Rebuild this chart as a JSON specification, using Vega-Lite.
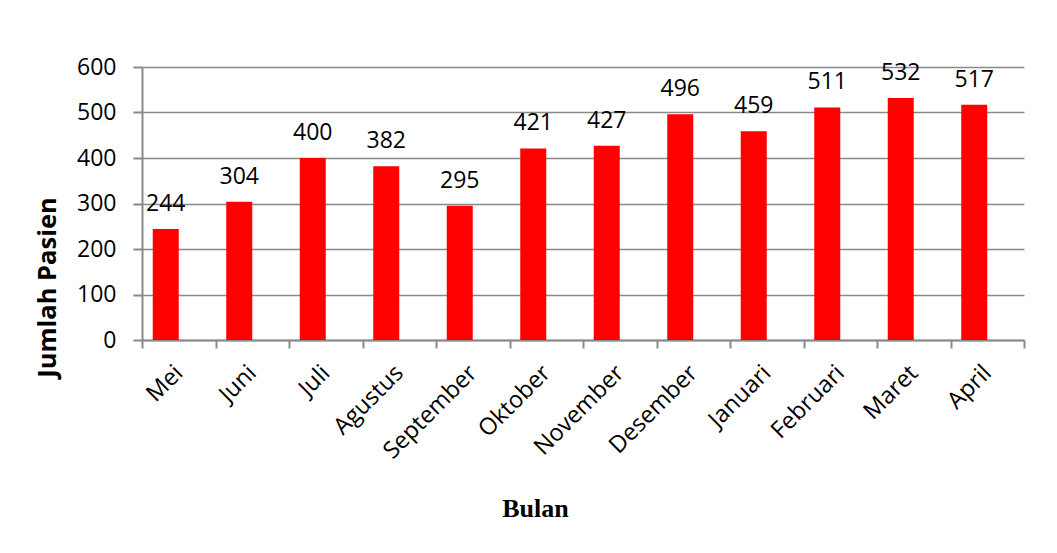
{
  "$schema": "https://vega.github.io/schema/vega-lite/v6.json",
  "width": 882,
  "height": 273,
  "autosize": {"type": "none"},
  "padding": {"left": 142, "top": 67, "right": 33, "bottom": 213},
  "background": "white",
  "data": {
    "values": [
      {"bulan": "Mei", "jumlah": 244, "seri": "Jumlah Pasien"},
      {"bulan": "Juni", "jumlah": 304, "seri": "Jumlah Pasien"},
      {"bulan": "Juli", "jumlah": 400, "seri": "Jumlah Pasien"},
      {"bulan": "Agustus", "jumlah": 382, "seri": "Jumlah Pasien"},
      {"bulan": "September", "jumlah": 295, "seri": "Jumlah Pasien"},
      {"bulan": "Oktober", "jumlah": 421, "seri": "Jumlah Pasien"},
      {"bulan": "November", "jumlah": 427, "seri": "Jumlah Pasien"},
      {"bulan": "Desember", "jumlah": 496, "seri": "Jumlah Pasien"},
      {"bulan": "Januari", "jumlah": 459, "seri": "Jumlah Pasien"},
      {"bulan": "Februari", "jumlah": 511, "seri": "Jumlah Pasien"},
      {"bulan": "Maret", "jumlah": 532, "seri": "Jumlah Pasien"},
      {"bulan": "April", "jumlah": 517, "seri": "Jumlah Pasien"}
    ]
  },
  "encoding": {
    "x": {
      "field": "bulan",
      "type": "nominal",
      "sort": null,
      "scale": {"paddingInner": 0, "paddingOuter": 0},
      "axis": {
        "title": "Bulan",
        "titleFont": "Liberation Serif",
        "titleFontSize": 26,
        "titleFontWeight": "bold",
        "titleColor": "black",
        "titleX": 393,
        "titleY": 168,
        "titleAlign": "center",
        "titleBaseline": "middle",
        "labelAngle": -45,
        "labelAlign": "right",
        "labelBaseline": "middle",
        "labelFont": "Open Sans",
        "labelFontSize": 23.5,
        "labelColor": "black",
        "labelPadding": 21,
        "tickBand": "extent",
        "tickSize": 8,
        "tickColor": "#898989",
        "tickWidth": 2,
        "domainColor": "#898989",
        "domainWidth": 2,
        "grid": false
      }
    },
    "xOffset": {
      "field": "seri",
      "type": "nominal",
      "scale": {"domain": ["Jumlah Pasien", "kosong"], "paddingInner": 0, "paddingOuter": 0.4135}
    },
    "y": {
      "field": "jumlah",
      "type": "quantitative",
      "scale": {"domain": [0, 600], "nice": false},
      "axis": {
        "title": "Jumlah Pasien",
        "titleFont": "Open Sans",
        "titleFontSize": 25.5,
        "titleFontWeight": "bold",
        "titleColor": "black",
        "titleX": -95,
        "titleY": 220,
        "titleAlign": "center",
        "titleBaseline": "middle",
        "values": [0, 100, 200, 300, 400, 500, 600],
        "labelFont": "Open Sans",
        "labelFontSize": 23,
        "labelColor": "black",
        "labelPadding": 17,
        "tickSize": 9,
        "tickColor": "#898989",
        "tickWidth": 2,
        "domainColor": "#898989",
        "domainWidth": 2,
        "grid": true,
        "gridColor": "#898989",
        "gridWidth": 1.5
      }
    }
  },
  "layer": [
    {"mark": {"type": "bar", "color": "#FF0000"}},
    {
      "mark": {"type": "text", "dy": -18, "baseline": "alphabetic", "font": "Open Sans", "fontSize": 23, "color": "black"},
      "encoding": {"text": {"field": "jumlah", "type": "quantitative"}}
    }
  ],
  "config": {"view": {"stroke": null}}
}
